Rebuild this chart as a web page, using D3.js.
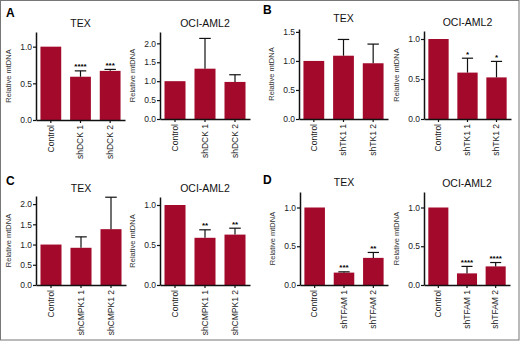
<!DOCTYPE html>
<html>
<head>
<meta charset="utf-8">
<script src="https://cdn.jsdelivr.net/npm/d3@7"></script>
<style>
  body { margin: 0; background: #fff; }
  svg { display: block; font-family: "Liberation Sans", Arial, sans-serif; }
</style>
</head>
<body>
<svg id="chart"></svg>
<script>
// ---- data ----
const dckLabels = ["Control", "shDCK 1", "shDCK 2"];
const tk1Labels = ["Control", "shTK1 1", "shTK1 2"];
const cmpkLabels = ["Control", "shCMPK1 1", "shCMPK1 2"];
const tfamLabels = ["Control", "shTFAM 1", "shTFAM 2"];

// means and upper error bar ends (null = no bar)
const dckTexMean = [1.0, 0.59, 0.67];
const dckTexErr = [null, 0.67, 0.69];
const dckTexStars = ["", "****", "***"];
const dckOciMean = [1.0, 1.33, 0.98];
const dckOciErr = [null, 2.13, 1.17];
const dckOciStars = ["", "", ""];

const tk1TexMean = [1.0, 1.09, 0.96];
const tk1TexErr = [null, 1.37, 1.29];
const tk1TexStars = ["", "", ""];
const tk1OciMean = [1.0, 0.58, 0.52];
const tk1OciErr = [null, 0.76, 0.72];
const tk1OciStars = ["", "*", "*"];

const cmpkTexMean = [1.0, 0.92, 1.38];
const cmpkTexErr = [null, 1.19, 2.17];
const cmpkTexStars = ["", "", ""];
const cmpkOciMean = [1.0, 0.59, 0.63];
const cmpkOciErr = [null, 0.69, 0.71];
const cmpkOciStars = ["", "**", "**"];

const tfamTexMean = [1.0, 0.16, 0.35];
const tfamTexErr = [null, 0.17, 0.42];
const tfamTexStars = ["", "***", "**"];
const tfamOciMean = [1.0, 0.15, 0.24];
const tfamOciErr = [null, 0.24, 0.29];
const tfamOciStars = ["", "****", "****"];

const ticks05 = [0, 0.5, 1.0];
const ticks15 = [0, 0.5, 1.0, 1.5];
const ticks20 = [0, 0.5, 1.0, 1.5, 2.0];

const panelLetters = ["A", "B", "C", "D"];
const cellTitles = ["TEX", "OCI-AML2"];

const W = 520, H = 341;
const barColor = "#a3092b";

const svg = d3.select("#chart").attr("width", W).attr("height", H);

svg.append("rect")
    .attr("x", 0.5).attr("y", 0.5)
    .attr("width", W - 1.5).attr("height", H - 1.5)
    .attr("fill", "none").attr("stroke", "#777").attr("stroke-width", 1);

// panel letters
const letterPos = [[6, 17], [263, 14], [6, 185], [263, 184]];
panelLetters.forEach((l, i) => {
    svg.append("text")
        .attr("x", letterPos[i][0]).attr("y", letterPos[i][1])
        .attr("font-weight", "bold").attr("font-size", 12)
        .text(l);
});

// layout for each sub chart: axis x range, baseline, top px, domain max
const cells = [
    { labels: dckLabels, mean: dckTexMean, err: dckTexErr, stars: dckTexStars, ticks: ticks05, max: 1.2, x0: 36, x1: 125, y0: 120, yTop: 32, titleY: 27, title: 0 },
    { labels: dckLabels, mean: dckOciMean, err: dckOciErr, stars: dckOciStars, ticks: ticks20, max: 2.3, x0: 160, x1: 250, y0: 119, yTop: 32, titleY: 27, title: 1 },
    { labels: tk1Labels, mean: tk1TexMean, err: tk1TexErr, stars: tk1TexStars, ticks: ticks15, max: 1.55, x0: 299, x1: 388, y0: 119, yTop: 29, titleY: 22, title: 0 },
    { labels: tk1Labels, mean: tk1OciMean, err: tk1OciErr, stars: tk1OciStars, ticks: ticks05, max: 1.1, x0: 424, x1: 511, y0: 119, yTop: 31, titleY: 26, title: 1 },
    { labels: cmpkLabels, mean: cmpkTexMean, err: cmpkTexErr, stars: cmpkTexStars, ticks: ticks20, max: 2.2, x0: 36, x1: 126, y0: 285, yTop: 196, titleY: 192, title: 0 },
    { labels: cmpkLabels, mean: cmpkOciMean, err: cmpkOciErr, stars: cmpkOciStars, ticks: ticks05, max: 1.1, x0: 160, x1: 250, y0: 285, yTop: 197, titleY: 192, title: 1 },
    { labels: tfamLabels, mean: tfamTexMean, err: tfamTexErr, stars: tfamTexStars, ticks: ticks05, max: 1.2, x0: 300, x1: 388, y0: 285, yTop: 192, titleY: 186, title: 0 },
    { labels: tfamLabels, mean: tfamOciMean, err: tfamOciErr, stars: tfamOciStars, ticks: ticks05, max: 1.2, x0: 424, x1: 510, y0: 285, yTop: 192, titleY: 187, title: 1 }
];

cells.forEach(c => {
    const x = d3.scaleBand()
        .domain(c.labels)
        .range([c.x0, c.x1])
        .paddingInner(0.3)
        .paddingOuter(0.15);

    const y = d3.scaleLinear()
        .domain([0, c.max])
        .range([c.y0, c.yTop]);

    const g = svg.append("g");

    // bars
    g.selectAll("rect.bar")
        .data(c.mean)
        .join("rect")
        .attr("class", "bar")
        .attr("x", (d, i) => x(c.labels[i]))
        .attr("y", d => y(d))
        .attr("width", x.bandwidth())
        .attr("height", d => c.y0 - y(d))
        .attr("fill", barColor);

    // error bars (upper only)
    const capW = x.bandwidth() * 0.55;
    c.err.forEach((e, i) => {
        if (e === null) return;
        const cx = x(c.labels[i]) + x.bandwidth() / 2;
        g.append("line")
            .attr("x1", cx).attr("x2", cx)
            .attr("y1", y(c.mean[i])).attr("y2", y(e))
            .attr("stroke", "#111").attr("stroke-width", 1.2);
        g.append("line")
            .attr("x1", cx - capW / 2).attr("x2", cx + capW / 2)
            .attr("y1", y(e)).attr("y2", y(e))
            .attr("stroke", "#111").attr("stroke-width", 1.2);
        if (c.stars[i]) {
            g.append("text")
                .attr("x", cx).attr("y", y(e) - 1.5)
                .attr("text-anchor", "middle")
                .attr("font-size", 8).attr("font-weight", "bold")
                .text(c.stars[i]);
        }
    });

    // y axis
    const yAx = g.append("g")
        .attr("transform", `translate(${c.x0},0)`)
        .call(d3.axisLeft(y).tickValues(c.ticks).tickFormat(d3.format(".1f")).tickSize(3).tickSizeOuter(0));
    // x axis
    const xAx = g.append("g")
        .attr("transform", `translate(0,${c.y0})`)
        .call(d3.axisBottom(x).tickSize(3).tickSizeOuter(0));

    [yAx, xAx].forEach(a => {
        a.select(".domain").attr("stroke", "#111").attr("stroke-width", 1.5);
        a.selectAll(".tick line").attr("stroke", "#111").attr("stroke-width", 1.2);
        a.selectAll("text").attr("font-size", 8.5).attr("fill", "#222")
            .attr("font-family", "Liberation Sans, Arial, sans-serif");
    });
    yAx.selectAll(".tick text").attr("x", -4);
    xAx.selectAll(".tick text")
        .attr("transform", "rotate(-90)")
        .attr("text-anchor", "end")
        .attr("x", -5).attr("y", 0).attr("dy", "0.32em");

    // y label
    g.append("text")
        .attr("transform", `translate(${c.x0 - 25},${(c.y0 + c.yTop) / 2}) rotate(-90)`)
        .attr("text-anchor", "middle")
        .attr("font-size", 7.5).attr("fill", "#333")
        .text("Relative mtDNA");

    // title
    g.append("text")
        .attr("x", (c.x0 + c.x1) / 2).attr("y", c.titleY)
        .attr("text-anchor", "middle")
        .attr("font-size", 10.5).attr("fill", "#111")
        .text(cellTitles[c.title]);
});
</script>
</body>
</html>
